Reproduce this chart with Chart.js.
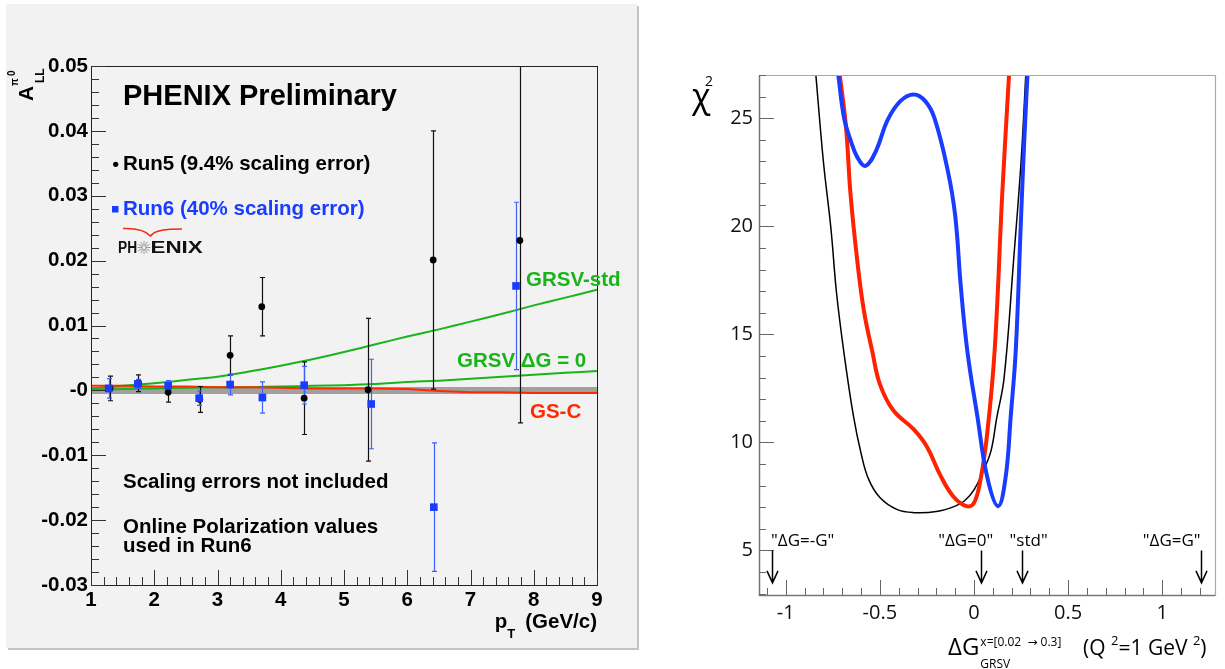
<!DOCTYPE html>
<html>
<head>
<meta charset="utf-8">
<script src="https://cdn.jsdelivr.net/npm/chart.js@4.4.1/dist/chart.umd.min.js"></script>
<style>
  html, body { margin: 0; padding: 0; background: #fff; }
  #wrapL { position: absolute; left: 0; top: 0; width: 640px; height: 669px; }
  #wrapR { position: absolute; left: 640px; top: 0; width: 585px; height: 669px; }
</style>
</head>
<body>
<div id="wrapL"><canvas id="chartAll" width="640" height="669"></canvas></div>
<div id="wrapR"><canvas id="chartChi" width="585" height="669"></canvas></div>
<script>
// ---- left panel: A_LL vs pT ----
const ptTicks = [1, 2, 3, 4, 5, 6, 7, 8, 9];
const allTicks = [-0.03, -0.02, -0.01, 0, 0.01, 0.02, 0.03, 0.04, 0.05];

const run5Pt = [1.3, 1.75, 2.22, 2.72, 3.2, 3.7, 4.37, 5.38, 6.41, 7.78];
const run5Val = [0.0003, 0.0011, -0.0003, -0.0014, 0.0054, 0.0129, -0.0012, 0.0001, 0.0201, 0.0231];
const run5Err = [0.0019, 0.0013, 0.0015, 0.002, 0.003, 0.0045, 0.0056, 0.011, 0.0199, 0.0281];

const run6Pt = [1.28, 1.74, 2.22, 2.71, 3.2, 3.71, 4.37, 5.43, 6.42, 7.72];
const run6Val = [0.0003, 0.001, 0.0007, -0.0012, 0.0009, -0.0011, 0.0008, -0.0021, -0.018, 0.0161];
const run6Err = [0.0015, 0.0007, 0.0008, 0.0011, 0.0016, 0.0024, 0.0029, 0.0069, 0.0099, 0.0129];

const thX = [1, 1.5, 2, 2.5, 3, 3.5, 4, 4.5, 5, 5.5, 6, 6.5, 7, 7.5, 8, 8.5, 9];
const grsvStd = [0.0003, 0.0007, 0.0011, 0.0016, 0.0021, 0.0029, 0.0038, 0.0048, 0.0059, 0.0071, 0.0083, 0.0094, 0.0106, 0.0118, 0.0131, 0.0143, 0.0155];
const grsvZero = [0.0001, 0.0002, 0.0003, 0.0004, 0.0005, 0.0005, 0.0006, 0.0007, 0.0008, 0.001, 0.0013, 0.0015, 0.0018, 0.0021, 0.0024, 0.0027, 0.003];
const gsc = [0.0007, 0.0007, 0.0006, 0.0006, 0.0005, 0.0005, 0.0004, 0.0003, 0.0003, 0.0003, 0.0002, -0.0001, -0.0003, -0.0003, -0.0004, -0.0004, -0.0004];
const bandX = [1, 9];
const bandY = [0, 0];

// ---- right panel: chi2 vs Delta G ----
const dgTicks = [-1, -0.5, 0, 0.5, 1];
const chiTicks = [5, 10, 15, 20, 25];

const chiBlackX = [-0.84, -0.80, -0.76, -0.73, -0.69, -0.64, -0.60, -0.56, -0.50, -0.41, -0.32, -0.20, -0.10, -0.05, 0.0, 0.05, 0.09, 0.12, 0.16, 0.21, 0.25, 0.275];
const chiBlackY = [27, 23.0, 19.9, 16.9, 14.1, 11.2, 9.5, 8.3, 7.45, 6.9, 6.75, 6.8, 7.05, 7.3, 7.8, 8.7, 9.6, 11.1, 13.0, 18.4, 23.0, 27];

const chiRedX = [-0.713, -0.68, -0.656, -0.62, -0.585, -0.54, -0.50, -0.43, -0.32, -0.25, -0.18, -0.11, -0.04, 0.0, 0.035, 0.07, 0.11, 0.15, 0.186];
const chiRedY = [27, 24.6, 21.5, 18.4, 16.1, 14.2, 12.7, 11.5, 10.6, 9.8, 8.5, 7.5, 7.05, 7.2, 8.3, 10.4, 14.3, 21.5, 27];

const chiBlueX = [-0.721, -0.69, -0.656, -0.62, -0.576, -0.52, -0.46, -0.39, -0.32, -0.26, -0.21, -0.14, -0.10, -0.07, -0.035, 0.018, 0.07, 0.128, 0.168, 0.195, 0.222, 0.248, 0.266, 0.284];
const chiBlueY = [27, 25.0, 24.0, 23.2, 22.8, 23.5, 24.9, 25.8, 26.1, 25.8, 25.0, 22.6, 20.5, 17.2, 14.2, 11.2, 8.4, 7.05, 8.4, 11.2, 14.3, 20.0, 23.8, 27];

const arrowX = [-1.072, 0.039, 0.254, 1.206];
const arrowLbl = ['"ΔG=-G"', '"ΔG=0"', '"std"', '"ΔG=G"'];
const arrowLblX = [-0.91, -0.044, 0.29, 1.05];
const arrowTop = 5.0, arrowTip = 3.5, arrowLblY = 5.2;

Chart.defaults.color = "#000";
const rootFont = "'Liberation Sans', Arial, Helvetica, sans-serif";
const chiFont = "'Open Sans', 'DejaVu Sans', sans-serif";

const pts = (xs, ys) => xs.map((x, i) => ({ x, y: ys[i] }));

function drawErrors(ctx, area, xs, ys, px, val, err, color) {
  ctx.strokeStyle = color;
  ctx.lineWidth = 1.2;
  px.forEach((x, i) => {
    const cx = Math.round(xs.getPixelForValue(x)) + 0.5;
    const yLo = ys.getPixelForValue(val[i] - err[i]);
    const yHi = ys.getPixelForValue(val[i] + err[i]);
    const a = Math.max(yHi, area.top), b = Math.min(yLo, area.bottom);
    ctx.beginPath();
    ctx.moveTo(cx, a);
    ctx.lineTo(cx, b);
    if (yHi >= area.top) { ctx.moveTo(cx - 2.5, yHi); ctx.lineTo(cx + 2.5, yHi); }
    if (yLo <= area.bottom) { ctx.moveTo(cx - 2.5, yLo); ctx.lineTo(cx + 2.5, yLo); }
    ctx.stroke();
  });
}

const leftDeco = {
  id: "leftDeco",
  beforeDraw(chart) {
    const ctx = chart.ctx;
    ctx.save();
    ctx.fillStyle = "#f2f2f2";
    ctx.fillRect(6, 4, 631, 644);
    ctx.fillStyle = "#c4c4c4";
    ctx.fillRect(637, 6, 2, 644);
    ctx.fillRect(8, 648, 631, 2);
    ctx.restore();
  },
  afterDatasetDraw(chart, args) {
    // error bars go between the theory lines and the markers
    if (args.index !== 2) return;
    const ctx = chart.ctx, area = chart.chartArea;
    const xs = chart.scales.x, ys = chart.scales.y;
    ctx.save();
    drawErrors(ctx, area, xs, ys, run5Pt, run5Val, run5Err, "#111");
    drawErrors(ctx, area, xs, ys, run6Pt, run6Val, run6Err, "#3d60ff");
    ctx.restore();
  },
  afterDraw(chart) {
    const ctx = chart.ctx, a = chart.chartArea;
    const xs = chart.scales.x, ys = chart.scales.y;
    ctx.save();
    // frame
    ctx.strokeStyle = "#222";
    ctx.lineWidth = 1;
    ctx.strokeRect(Math.round(a.left) + 0.5, Math.round(a.top) + 0.5, Math.round(a.right - a.left), Math.round(a.bottom - a.top));
    // ticks (inside the frame)
    ctx.strokeStyle = "#333";
    ctx.beginPath();
    for (let k = 0; k <= 40; k++) {
      const v = 1 + k * 0.2;
      const x = Math.round(xs.getPixelForValue(v)) + 0.5;
      const len = k % 5 === 0 ? 15 : 8;
      ctx.moveTo(x, a.bottom);
      ctx.lineTo(x, a.bottom - len);
    }
    for (let k = 0; k <= 40; k++) {
      const v = -0.03 + k * 0.002;
      const y = Math.round(ys.getPixelForValue(v)) + 0.5;
      const len = k % 5 === 0 ? 15 : 8;
      ctx.moveTo(a.left, y);
      ctx.lineTo(a.left + len, y);
    }
    ctx.stroke();

    // texts
    ctx.textAlign = "left";
    ctx.textBaseline = "alphabetic";
    ctx.fillStyle = "#000";
    ctx.font = "bold 29px " + rootFont;
    ctx.fillText("PHENIX Preliminary", 123, 105);

    ctx.font = "bold 20.5px " + rootFont;
    ctx.fillText("Run5 (9.4% scaling error)", 123, 170);
    ctx.beginPath();
    ctx.arc(115.7, 164.3, 2.6, 0, Math.PI * 2);
    ctx.fill();

    ctx.fillStyle = "#1a3cff";
    ctx.fillText("Run6 (40% scaling error)", 123, 215);
    ctx.fillRect(112, 206, 6.5, 6.5);

    ctx.fillStyle = "#000";
    ctx.fillText("Scaling errors not included", 123, 488);
    ctx.fillText("Online Polarization values", 123, 533);
    ctx.fillText("used in Run6", 123, 552);

    ctx.fillStyle = "#19b419";
    ctx.fillText("GRSV-std", 526, 286);
    ctx.fillText("GRSV \u0394G = 0", 457, 367);
    ctx.fillStyle = "#ff2a00";
    ctx.fillText("GS-C", 530, 418);

    // x axis title
    ctx.fillStyle = "#000";
    ctx.font = "bold 20.5px " + rootFont;
    ctx.textAlign = "right";
    ctx.fillText("(GeV/c)", 597, 628);
    const w1 = ctx.measureText("(GeV/c)").width;
    ctx.fillText("p", 597 - w1 - 18, 628);
    ctx.font = "bold 13px " + rootFont;
    ctx.textAlign = "left";
    ctx.fillText("T", 597 - w1 - 18, 638);

    // y axis title A_LL^{pi0}
    ctx.save();
    ctx.translate(33, 101);
    ctx.rotate(-Math.PI / 2);
    ctx.font = "bold 21px " + rootFont;
    ctx.fillText("A", 0, 0);
    ctx.font = "bold 12px " + rootFont;
    ctx.fillText("LL", 18, 11);
    ctx.font = "bold 10px " + rootFont;
    ctx.fillText("\u03c0", 15, -15);
    ctx.fillText("0", 25, -18);
    ctx.restore();

    // PHENIX logo
    ctx.font = "bold 16px " + rootFont;
    ctx.fillStyle = "#111";
    ctx.save();
    ctx.translate(118, 253);
    ctx.scale(0.86, 1);
    ctx.fillText("PH", 0, 0);
    ctx.restore();
    ctx.save();
    ctx.translate(150.5, 253);
    ctx.scale(1.4, 1);
    ctx.fillText("ENIX", 0, 0);
    ctx.restore();
    ctx.strokeStyle = "#9a9a9a";
    ctx.lineWidth = 1;
    ctx.beginPath();
    for (let k = 0; k < 12; k++) {
      const t = k * Math.PI / 6;
      ctx.moveTo(144 + Math.cos(t) * 1.5, 247.5 + Math.sin(t) * 1.5);
      ctx.lineTo(144 + Math.cos(t) * 6.5, 247.5 + Math.sin(t) * 6.5);
    }
    ctx.stroke();
    ctx.strokeStyle = "#f02a10";
    ctx.lineWidth = 1.5;
    ctx.beginPath();
    ctx.moveTo(123, 228.5);
    ctx.bezierCurveTo(136, 228, 145, 230, 150.5, 236);
    ctx.bezierCurveTo(155, 230, 166, 229, 182, 229);
    ctx.stroke();
    ctx.restore();
  }
};

new Chart(document.getElementById("chartAll"), {
  type: "scatter",
  data: {
    datasets: [
      { label: "Run6", data: pts(run6Pt, run6Val), pointStyle: "rect", pointRadius: 5.4, backgroundColor: "#1a3cff", borderWidth: 0 },
      { label: "Run5", data: pts(run5Pt, run5Val), pointStyle: "circle", pointRadius: 3.4, backgroundColor: "#000", borderWidth: 0 },
      { type: "line", label: "GS-C", data: pts(thX, gsc), borderColor: "#ff2a00", borderWidth: 2, pointRadius: 0, tension: 0 },
      { type: "line", label: "GRSV dG=0", data: pts(thX, grsvZero), borderColor: "#19b419", borderWidth: 2, pointRadius: 0, tension: 0.3 },
      { type: "line", label: "GRSV-std", data: pts(thX, grsvStd), borderColor: "#19b419", borderWidth: 2, pointRadius: 0, tension: 0.3 },
      { type: "line", label: "band", data: pts(bandX, bandY), borderColor: "#a0a0a0", borderWidth: 7, pointRadius: 0 }
    ]
  },
  options: {
    responsive: false,
    animation: false,
    events: [],
    layout: { padding: { top: 66, right: 43, left: 0, bottom: 0 } },
    plugins: { legend: { display: false }, tooltip: { enabled: false } },
    scales: {
      x: {
        type: "linear", min: 1, max: 9,
        afterBuildTicks: (s) => { s.ticks = ptTicks.map((v) => ({ value: v })); },
        afterFit: (s) => { s.height = 84; },
        grid: { display: false, drawTicks: false },
        border: { display: false },
        ticks: { font: { family: rootFont, size: 20.5, weight: "bold" }, color: "#000", padding: 3, maxRotation: 0, autoSkip: false }
      },
      y: {
        type: "linear", min: -0.03, max: 0.05,
        afterBuildTicks: (s) => { s.ticks = allTicks.map((v) => ({ value: v })); },
        afterFit: (s) => { s.width = 91; },
        grid: { display: false, drawTicks: false },
        border: { display: false },
        ticks: {
          font: { family: rootFont, size: 20.5, weight: "bold" }, color: "#000", padding: 3,
          callback: (v) => (Math.abs(v) < 1e-9 ? "-0" : v.toFixed(2))
        }
      }
    }
  },
  plugins: [leftDeco]
});

// ---- right panel ----
const rightDeco = {
  id: "rightDeco",
  afterDraw(chart) {
    const ctx = chart.ctx, a = chart.chartArea;
    const xs = chart.scales.x, ys = chart.scales.y;
    const L = Math.round(a.left) + 0.5, T = Math.round(a.top) + 0.5;
    const R = Math.round(a.right) + 0.5, B = Math.round(a.bottom) + 0.5;
    ctx.save();
    ctx.lineWidth = 1.2;
    ctx.strokeStyle = "#a8a8a8";
    ctx.beginPath();
    ctx.moveTo(L, T); ctx.lineTo(R, T); ctx.lineTo(R, B);
    ctx.stroke();
    ctx.strokeStyle = "#777";
    ctx.lineWidth = 1.5;
    ctx.beginPath();
    ctx.moveTo(L, T); ctx.lineTo(L, B); ctx.lineTo(R, B);
    ctx.stroke();

    ctx.strokeStyle = "#666";
    ctx.lineWidth = 1;
    ctx.beginPath();
    for (let k = -11; k <= 12; k++) {
      const x = Math.round(xs.getPixelForValue(k / 10)) + 0.5;
      const len = k % 5 === 0 ? 15 : 7;
      ctx.moveTo(x, a.bottom);
      ctx.lineTo(x, a.bottom - len);
    }
    for (let k = 3; k <= 27; k++) {
      const y = Math.round(ys.getPixelForValue(k)) + 0.5;
      const len = k % 5 === 0 ? 15 : 7;
      ctx.moveTo(a.left, y);
      ctx.lineTo(a.left + len, y);
    }
    ctx.stroke();

    // arrows with their labels
    ctx.strokeStyle = "#000";
    ctx.fillStyle = "#000";
    ctx.lineWidth = 1.5;
    ctx.font = "17px " + chiFont;
    ctx.textAlign = "center";
    ctx.textBaseline = "alphabetic";
    arrowX.forEach((v, i) => {
      const x = Math.round(xs.getPixelForValue(v)) + 0.5;
      const y0 = ys.getPixelForValue(arrowTop), y1 = ys.getPixelForValue(arrowTip);
      ctx.beginPath();
      ctx.moveTo(x, y0); ctx.lineTo(x, y1);
      ctx.moveTo(x - 5.5, y1 - 12); ctx.lineTo(x, y1); ctx.lineTo(x + 5.5, y1 - 12);
      ctx.stroke();
      ctx.fillText(arrowLbl[i], xs.getPixelForValue(arrowLblX[i]), ys.getPixelForValue(arrowLblY));
    });

    // y title
    ctx.textAlign = "left";
    ctx.font = "34px " + chiFont;
    ctx.fillText("\u03c7", 52, 108);
    ctx.font = "14px " + chiFont;
    ctx.fillText("2", 65, 86);

    // x title
    let x = 308;
    ctx.font = "24px " + chiFont;
    ctx.fillText("\u0394G", x, 655);
    x += ctx.measureText("\u0394G").width + 1;
    ctx.font = "12px " + chiFont;
    ctx.fillText("x=[0.02  \u2192 0.3]", x, 646);
    ctx.fillText("GRSV", x, 668);
    x = 443;
    ctx.font = "21px " + chiFont;
    ctx.fillText("(Q", x, 655);
    x += ctx.measureText("(Q ").width;
    ctx.font = "13px " + chiFont;
    ctx.fillText("2", x, 645);
    x += ctx.measureText("2").width;
    ctx.font = "21px " + chiFont;
    ctx.fillText("=1 GeV", x, 655);
    x += ctx.measureText("=1 GeV ").width;
    ctx.font = "13px " + chiFont;
    ctx.fillText("2", x, 645);
    x += ctx.measureText("2").width;
    ctx.font = "21px " + chiFont;
    ctx.fillText(")", x, 655);
    ctx.restore();
  }
};

new Chart(document.getElementById("chartChi"), {
  type: "scatter",
  data: {
    datasets: [
      { type: "line", label: "blue", data: pts(chiBlueX, chiBlueY), borderColor: "#1a3cff", borderWidth: 4, pointRadius: 0, tension: 0.4, clip: 0 },
      { type: "line", label: "red", data: pts(chiRedX, chiRedY), borderColor: "#ff2200", borderWidth: 4, pointRadius: 0, tension: 0.4, clip: 0 },
      { type: "line", label: "black", data: pts(chiBlackX, chiBlackY), borderColor: "#000", borderWidth: 1.5, pointRadius: 0, tension: 0.4, clip: 0 }
    ]
  },
  options: {
    responsive: false,
    animation: false,
    events: [],
    layout: { padding: { top: 75, right: 10, left: 0, bottom: 0 } },
    plugins: { legend: { display: false }, tooltip: { enabled: false } },
    scales: {
      x: {
        type: "linear", min: -1.142, max: 1.28,
        afterBuildTicks: (s) => { s.ticks = dgTicks.map((v) => ({ value: v })); },
        afterFit: (s) => { s.height = 74; },
        grid: { display: false, drawTicks: false },
        border: { display: false },
        ticks: { font: { family: chiFont, size: 20 }, color: "#111", padding: 6, maxRotation: 0, autoSkip: false, callback: (v) => String(v) }
      },
      y: {
        type: "linear", min: 2.94, max: 27,
        afterBuildTicks: (s) => { s.ticks = chiTicks.map((v) => ({ value: v })); },
        afterFit: (s) => { s.width = 119; },
        grid: { display: false, drawTicks: false },
        border: { display: false },
        ticks: { font: { family: chiFont, size: 20 }, color: "#111", padding: 6, callback: (v) => String(v) }
      }
    }
  },
  plugins: [rightDeco]
});
</script>
</body>
</html>
